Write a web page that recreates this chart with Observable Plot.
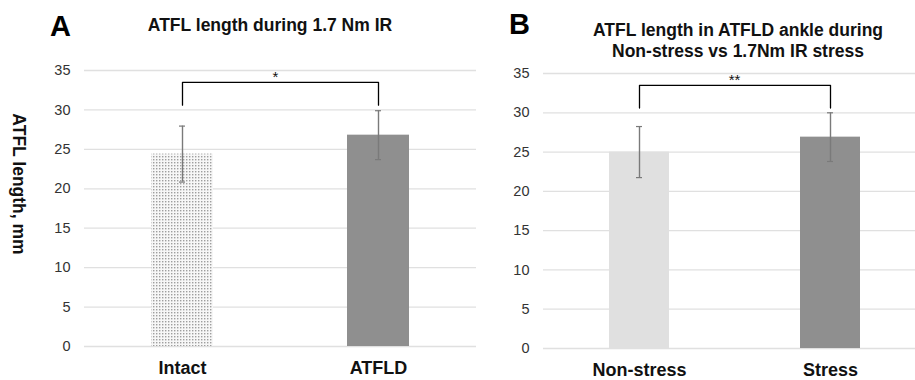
<!DOCTYPE html>
<html>
<head>
<meta charset="utf-8">
<script src="https://cdn.jsdelivr.net/npm/d3@7"></script>
<script src="https://cdn.jsdelivr.net/npm/@observablehq/plot@0.6"></script>
<style>
  html, body { margin: 0; padding: 0; background: #fff; }
  #wrap { position: relative; width: 915px; height: 380px; overflow: hidden; font-family: "Liberation Sans", Arial, sans-serif; }
  .abs { position: absolute; white-space: nowrap; }
  .panel svg { overflow: visible; background: transparent; }
  .letter { font-weight: bold; font-size: 29px; line-height: 1; color: #000; }
  .title { font-weight: bold; font-size: 17.5px; line-height: 21px; text-align: center; color: #111; }
</style>
</head>
<body>
<div id="wrap">
  <div id="plotA" class="abs panel" style="left:0;top:0;"></div>
  <div id="plotB" class="abs panel" style="left:460px;top:0;"></div>
  <div class="abs letter" style="left:50px;top:12px;">A</div>
  <div class="abs letter" style="left:509px;top:10px;">B</div>
  <div class="abs title" style="left:70px;width:400px;top:15px;">ATFL length during 1.7 Nm IR</div>
  <div class="abs title" style="left:538px;width:400px;top:20px;">ATFL length in ATFLD ankle during<br>Non-stress vs 1.7Nm IR stress</div>
  <div class="abs" style="left:18px;top:184px;transform:translate(-50%,-50%) rotate(90deg);font-weight:bold;font-size:17.5px;color:#111;">ATFL length, mm</div>
</div>
<script>
// ---- data ----
const yTicks = [0, 5, 10, 15, 20, 25, 30, 35];

const panelACategories = ["Intact", "ATFLD"];
const panelAMeans = [24.4, 26.8];
const panelASD = [3.55, 3.1];
const panelAColors = ["url(#dots)", "#8f8f8f"];
const panelASig = "*";

const panelBCategories = ["Non-stress", "Stress"];
const panelBMeans = [25.0, 26.9];
const panelBSD = [3.25, 3.1];
const panelBColors = ["#e0e0e0", "#8f8f8f"];
const panelBSig = "**";

const bracketTop = 33.5;
const bracketLeg = 30.6;

function makePanel({cats, means, sds, colors, sig, width, marginLeft, marginTop, marginBottom, range, bandPad, starDx}) {
  const rows = cats.map((c, i) => ({cat: c, mean: means[i], sd: sds[i], fill: colors[i]}));
  const bracket = [
    {cat: cats[0], y: bracketLeg},
    {cat: cats[0], y: bracketTop},
    {cat: cats[1], y: bracketTop},
    {cat: cats[1], y: bracketLeg}
  ];
  return Plot.plot({
    width, height: 380,
    marginLeft, marginRight: 0, marginTop, marginBottom,
    style: {fontFamily: "'Liberation Sans', Arial, sans-serif", background: "transparent"},
    x: {domain: cats, range, paddingInner: bandPad, paddingOuter: bandPad / 2, label: null},
    y: {domain: [0, 35], label: null},
    marks: [
      Plot.ruleY(yTicks, {y: d => d, stroke: "#e0e0e0", strokeWidth: 1.3}),
      Plot.axisY({ticks: yTicks, tickSize: 0, tickPadding: 14, fontSize: 14.5, fill: "#333", label: null}),
      Plot.axisX({tickSize: 0, tickPadding: 15, fontSize: 18, fontWeight: "bold", fill: "#111", label: null}),
      Plot.barY(rows, {x: "cat", y: "mean", fill: "fill"}),
      Plot.ruleX(rows, {x: "cat", y1: d => d.mean - d.sd, y2: d => d.mean + d.sd, stroke: "#7a7a7a", strokeWidth: 1.4}),
      Plot.tickY(rows, {x: "cat", y: d => d.mean + d.sd, stroke: "#7a7a7a", strokeWidth: 1.2}),
      Plot.tickY(rows, {x: "cat", y: d => d.mean - d.sd, stroke: "#7a7a7a", strokeWidth: 1.2}),
      Plot.line(bracket, {x: "cat", y: "y", stroke: "#000", strokeWidth: 1.3, curve: "linear"}),
      Plot.text([sig], {text: d => d, y: bracketTop, frameAnchor: "middle", dx: starDx, dy: -5, fontSize: 15, fill: "#111"})
    ]
  });
}

const svgA = makePanel({cats: panelACategories, means: panelAMeans, sds: panelASD, colors: panelAColors, sig: panelASig,
  width: 476, marginLeft: 84, marginTop: 70, marginBottom: 34, range: [84, 476], bandPad: 0.684, starDx: -5});
const svgB = makePanel({cats: panelBCategories, means: panelBMeans, sds: panelBSD, colors: panelBColors, sig: panelBSig,
  width: 455, marginLeft: 83, marginTop: 73, marginBottom: 32, range: [83, 465], bandPad: 0.686, starDx: 5});

// dotted pattern for "Intact"
const defs = d3.select(svgA).insert("defs", ":first-child");
const pat = defs.append("pattern").attr("id", "dots").attr("patternUnits", "userSpaceOnUse").attr("width", 3).attr("height", 3);
pat.append("rect").attr("width", 3).attr("height", 3).attr("fill", "#f7f7f7");
pat.append("rect").attr("width", 1.4).attr("height", 1.4).attr("fill", "#9e9e9e");

// shrink the error-bar caps to small ticks
for (const svg of [svgA, svgB]) {
  const capWidth = 6;
  d3.select(svg).selectAll("g[aria-label='tick'] line").each(function() {
    const el = d3.select(this);
    const x1 = +el.attr("x1"), x2 = +el.attr("x2");
    const c = (x1 + x2) / 2;
    el.attr("x1", c - capWidth / 2).attr("x2", c + capWidth / 2);
  });
}

document.getElementById("plotA").appendChild(svgA);
document.getElementById("plotB").appendChild(svgB);
</script>
</body>
</html>
